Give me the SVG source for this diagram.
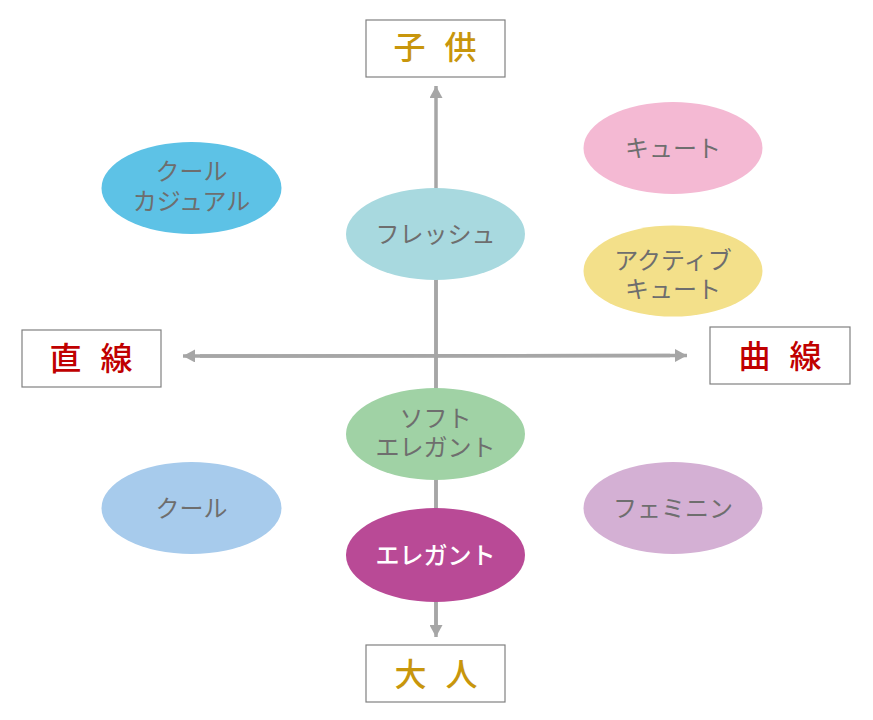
<svg xmlns="http://www.w3.org/2000/svg" width="873" height="720" viewBox="0 0 873 720">
<defs>
<marker id="ah" markerUnits="userSpaceOnUse" markerWidth="13" markerHeight="13" refX="12" refY="6.5" orient="auto">
<path d="M0,0 L12,6.5 L0,13 Z" fill="#a6a6a6"/>
</marker>
<style>
.box{fill:#fff;stroke:#808080;stroke-width:1.2}
.ax{stroke:#a6a6a6;stroke-width:3.5;fill:none}
.lbl{font-family:"Noto Sans CJK JP","Noto Sans",sans-serif;font-size:24px;fill:#6e6e6e;text-anchor:middle}
.gold{font-family:"Noto Sans CJK JP",sans-serif;font-size:32px;font-weight:500;fill:#c8960c;text-anchor:middle;letter-spacing:6px}
.red{font-family:"Noto Sans CJK JP",sans-serif;font-size:32px;font-weight:500;fill:#c00000;text-anchor:middle;letter-spacing:6px}
</style>
</defs>
<rect width="873" height="720" fill="#fff"/>
<g id="connectors">
<line class="ax" x1="436" y1="626" x2="436" y2="86" marker-end="url(#ah)"/>
<line class="ax" x1="436" y1="200" x2="436" y2="637" marker-end="url(#ah)"/>
<line class="ax" x1="670" y1="355.5" x2="183" y2="356" marker-end="url(#ah)"/>
<line class="ax" x1="200" y1="356" x2="687" y2="355.5" marker-end="url(#ah)"/>
</g>
<g id="kodomo">
<rect class="box" x="366" y="20" width="139" height="57"/>
<text class="gold" x="438" y="59" xml:space="preserve">子 供</text>
</g>
<g id="otona">
<rect class="box" x="366" y="645" width="139" height="57"/>
<text class="gold" x="439" y="686" xml:space="preserve">大 人</text>
</g>
<g id="chokusen">
<rect class="box" x="22" y="330" width="139" height="57"/>
<text class="red" x="94" y="370" xml:space="preserve">直 線</text>
</g>
<g id="kyokusen">
<rect class="box" x="710" y="327" width="140" height="57"/>
<text class="red" x="783" y="368" xml:space="preserve">曲 線</text>
</g>
<g id="cool-casual">
<ellipse cx="191.5" cy="188" rx="90" ry="46" fill="#5dc2e6"/>
<text class="lbl" x="191.5" y="180">クール</text>
<text class="lbl" x="191.5" y="210">カジュアル</text>
</g>
<g id="fresh">
<ellipse cx="435.5" cy="234" rx="89.5" ry="46" fill="#a8d9df"/>
<text class="lbl" x="435.5" y="243">フレッシュ</text>
</g>
<g id="cute">
<ellipse cx="673" cy="148" rx="89.5" ry="46" fill="#f4b9d3"/>
<text class="lbl" x="673" y="157">キュート</text>
</g>
<g id="active-cute">
<ellipse cx="673" cy="271" rx="89.5" ry="45.5" fill="#f3e08a"/>
<text class="lbl" x="673" y="269">アクティブ</text>
<text class="lbl" x="673" y="298">キュート</text>
</g>
<g id="soft-elegant">
<ellipse cx="435.5" cy="434" rx="89.5" ry="46" fill="#a0d2a5"/>
<text class="lbl" x="435.5" y="427">ソフト</text>
<text class="lbl" x="435.5" y="456">エレガント</text>
</g>
<g id="cool">
<ellipse cx="191.5" cy="508" rx="90" ry="46" fill="#a7cbec"/>
<text class="lbl" x="191.5" y="517">クール</text>
</g>
<g id="feminine">
<ellipse cx="673" cy="508" rx="89.5" ry="46" fill="#d4b0d4"/>
<text class="lbl" x="673" y="517">フェミニン</text>
</g>
<g id="elegant">
<ellipse cx="435.5" cy="555" rx="89.5" ry="47" fill="#b94a96"/>
<text class="lbl" x="435.5" y="564" style="fill:#fff;font-weight:500">エレガント</text>
</g>
</svg>
